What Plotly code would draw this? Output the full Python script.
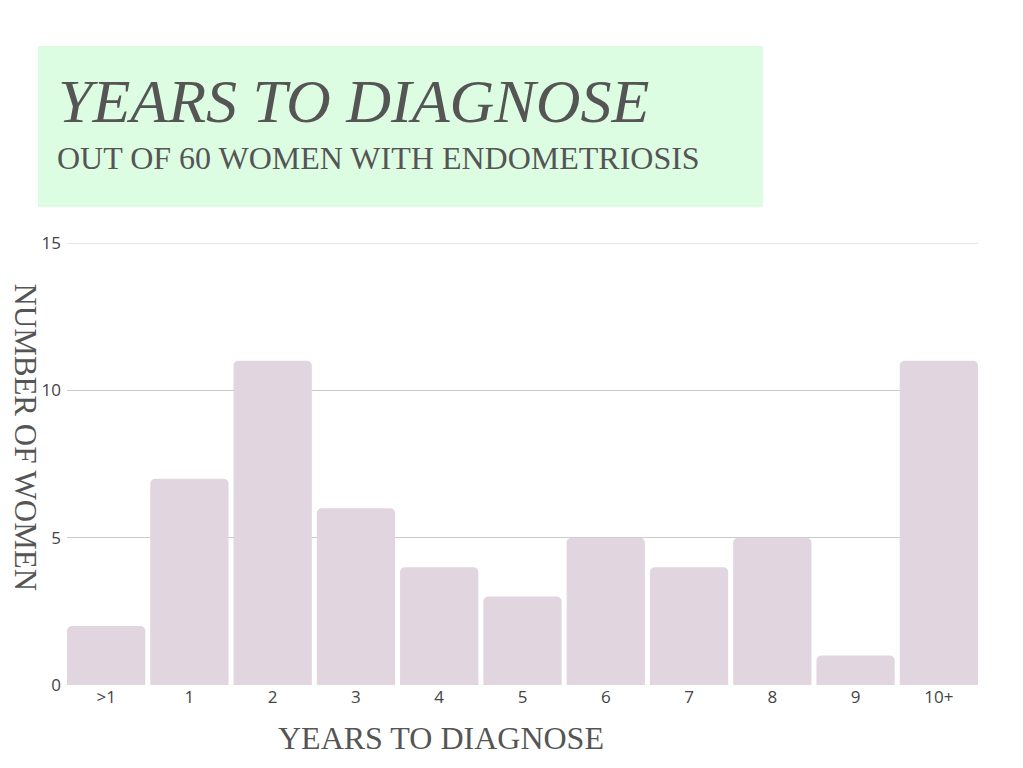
import plotly.graph_objects as go

categories = [">1", "1", "2", "3", "4", "5", "6", "7", "8", "9", "10+"]
women = [2, 7, 11, 6, 4, 3, 5, 4, 5, 1, 11]
y_ticks = [0, 5, 10, 15]

serif = "Liberation Serif, Times New Roman, serif"
sans = "Open Sans, Noto Sans, sans-serif"
text_color = "#555555"
tick_color = "#444444"
grid_color = "#cccccc"

bar_gap = 0.06

fig = go.Figure(
    go.Bar(
        x=categories,
        y=women,
        marker=dict(color="#e1d5df", line=dict(width=0)),
        hoverinfo="x+y",
    )
)

fig.update_layout(
    width=1023,
    height=768,
    margin=dict(l=67, r=45, t=243, b=83),
    paper_bgcolor="white",
    plot_bgcolor="white",
    bargap=bar_gap,
    barcornerradius=5,
    showlegend=False,
    font=dict(family=sans, size=17, color=tick_color),
    xaxis=dict(
        type="category",
        range=[-0.5 + bar_gap / 2, len(categories) - 0.5 - bar_gap / 2],
        showgrid=False,
        zeroline=False,
        showline=False,
        ticks="",
        tickfont=dict(family=sans, size=17, color=tick_color),
    ),
    yaxis=dict(
        range=[y_ticks[0], y_ticks[-1]],
        tickvals=y_ticks,
        showgrid=True,
        gridcolor=grid_color,
        gridwidth=1,
        zeroline=False,
        showline=False,
        ticks="",
        ticklabelstandoff=5,
        tickfont=dict(family=sans, size=17, color=tick_color),
    ),
    shapes=[
        # title panel
        dict(
            type="rect",
            xref="paper", yref="paper",
            x0=-0.0318, x1=0.7640,
            y0=1.0814, y1=1.4457,
            fillcolor="#ddfde3",
            line=dict(width=0),
            layer="below",
        ),
        # gridline at the top of the value axis (edge gridlines are clipped)
        dict(
            type="line",
            xref="paper", yref="y",
            x0=0, x1=1,
            y0=y_ticks[-1], y1=y_ticks[-1],
            line=dict(color=grid_color, width=1),
            layer="below",
        ),
    ],
    annotations=[
        dict(
            text="<i>YEARS TO DIAGNOSE</i>",
            xref="paper", yref="paper",
            x=-0.012, y=1.321,
            xanchor="left", yanchor="middle",
            showarrow=False,
            font=dict(family=serif, size=62, color=text_color),
        ),
        dict(
            text="OUT OF 60 WOMEN WITH ENDOMETRIOSIS",
            xref="paper", yref="paper",
            x=-0.013, y=1.193,
            xanchor="left", yanchor="middle",
            showarrow=False,
            font=dict(family=serif, size=32, color=text_color),
        ),
        dict(
            text="YEARS TO DIAGNOSE",
            xref="paper", yref="paper",
            x=0.41, y=-0.12,
            xanchor="center", yanchor="middle",
            showarrow=False,
            font=dict(family=serif, size=32, color=text_color),
        ),
        dict(
            text="NUMBER OF WOMEN",
            xref="paper", yref="paper",
            x=-0.046, y=0.56,
            xanchor="center", yanchor="middle",
            textangle=90,
            showarrow=False,
            font=dict(family=serif, size=31, color=text_color),
        ),
    ],
)

fig.write_html("out.html")
